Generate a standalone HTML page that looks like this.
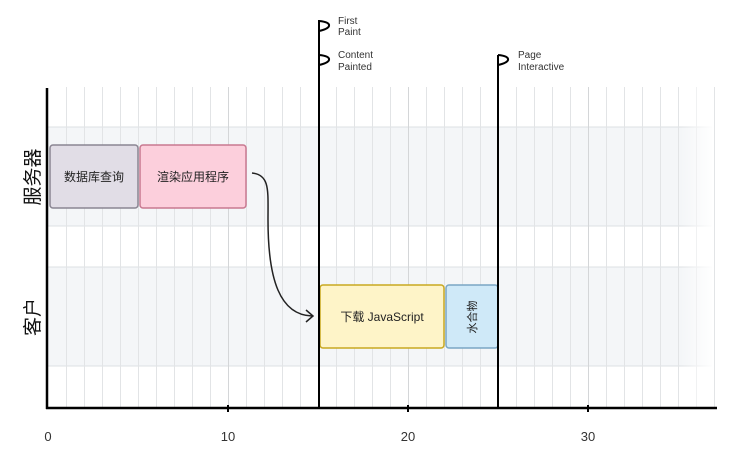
<!DOCTYPE html>
<html><head><meta charset="utf-8"><style>
body{margin:0;background:#fff;}
svg{display:block;font-family:"Liberation Sans","Noto Sans CJK SC",sans-serif;}
</style></head><body>
<svg width="739" height="463" viewBox="0 0 739 463" xmlns="http://www.w3.org/2000/svg">
<defs>
<linearGradient id="fade" x1="0" x2="1" y1="0" y2="0">
<stop offset="0" stop-color="#fff" stop-opacity="0"/><stop offset="1" stop-color="#fff" stop-opacity="1"/>
</linearGradient>
</defs>
<rect x="48" y="127" width="664" height="99" fill="#f4f6f8"/>
<rect x="48" y="267" width="664" height="99" fill="#f4f6f8"/>
<g stroke="#dde0e3" stroke-width="1">
<line x1="48" y1="127" x2="712" y2="127"/><line x1="48" y1="226" x2="712" y2="226"/>
<line x1="48" y1="267" x2="712" y2="267"/><line x1="48" y1="366" x2="712" y2="366"/>
</g>
<g id="grid" stroke="#e2e4e6" stroke-width="1"></g>
<rect x="680" y="87" width="34" height="321" fill="url(#fade)"/>
<script>
var g=document.getElementById('grid');
for(var i=1;i<=37;i++){var x=48+i*18+0.5;var l=document.createElementNS('http://www.w3.org/2000/svg','line');
l.setAttribute('x1',x);l.setAttribute('x2',x);l.setAttribute('y1',87);l.setAttribute('y2',407);
if(i%10==0)l.setAttribute('stroke','#d4d6d8');g.appendChild(l);}
</script>
<rect x="50" y="145" width="88" height="63" rx="3" fill="#e1dde6" stroke="#8a8592" stroke-width="1.5"/>
<text x="94" y="181" font-size="12" text-anchor="middle" fill="#222">数据库查询</text>
<rect x="140" y="145" width="106" height="63" rx="3" fill="#fccfdc" stroke="#c87890" stroke-width="1.5"/>
<text x="193" y="181" font-size="12" text-anchor="middle" fill="#222">渲染应用程序</text>
<rect x="320" y="285" width="124" height="63" rx="3" fill="#fef4c8" stroke="#c8a820" stroke-width="1.5"/>
<text x="382" y="321" font-size="12" text-anchor="middle" fill="#222">下载 JavaScript</text>
<rect x="446" y="285" width="52" height="63" rx="3" fill="#cfe9f8" stroke="#7aa6c4" stroke-width="1.5"/>
<text x="0" y="0" font-size="11" text-anchor="middle" fill="#222" transform="translate(476,317) rotate(-90)">水合物</text>
<path d="M252 173 C270 175 268 190 268 220 C268 280 280 315 312 316" fill="none" stroke="#222" stroke-width="1.5"/>
<path d="M306 310 L313 316 L306 322" fill="none" stroke="#222" stroke-width="1.5"/>
<g stroke="#000" stroke-width="2" fill="none">
<line x1="319" y1="20" x2="319" y2="408"/>
<line x1="498" y1="55" x2="498" y2="408"/>
<path d="M319 21 Q330 22 329 26 Q328 29 319 31"/>
<path d="M319 55 Q330 56 329 60 Q328 63 319 65"/>
<path d="M498 55 Q509 56 508 60 Q507 63 498 65"/>
</g>
<g font-size="10" fill="#333">
<text x="338" y="24">First</text><text x="338" y="35">Paint</text>
<text x="338" y="58">Content</text><text x="338" y="70">Painted</text>
<text x="518" y="58">Page</text><text x="518" y="70">Interactive</text>
</g>
<line x1="47" y1="88" x2="47" y2="409" stroke="#000" stroke-width="2.5"/>
<line x1="46" y1="408" x2="717" y2="408" stroke="#000" stroke-width="2.5"/>
<g stroke="#000" stroke-width="2">
<line x1="228" y1="405" x2="228" y2="412"/><line x1="408" y1="405" x2="408" y2="412"/><line x1="588" y1="405" x2="588" y2="412"/>
</g>
<g font-size="13" fill="#333" text-anchor="middle">
<text x="48" y="441">0</text><text x="228" y="441">10</text><text x="408" y="441">20</text><text x="588" y="441">30</text>
</g>
<text font-size="19" text-anchor="middle" fill="#111" transform="translate(39,177) rotate(-90)">服务器</text>
<text font-size="19" text-anchor="middle" fill="#111" transform="translate(39,317) rotate(-90)">客户</text>
</svg>
</body></html>
